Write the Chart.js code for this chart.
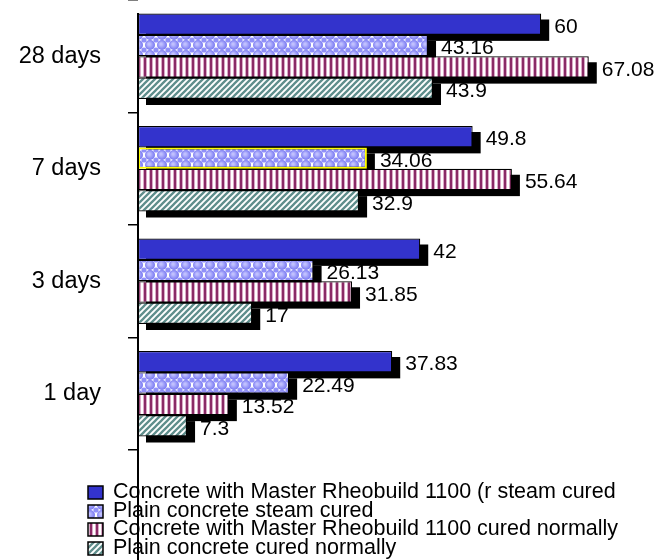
<!DOCTYPE html>
<html><head><meta charset="utf-8">
<script src="https://cdn.jsdelivr.net/npm/chart.js@4.4.0/dist/chart.umd.min.js"></script>
<style>html,body{margin:0;padding:0;background:#fff}#wrap{width:670px;height:560px;position:relative}</style>
</head><body><div id="wrap"><canvas id="c"></canvas></div>
<script>
const categories = ['28 days', '7 days', '3 days', '1 day'];
const seriesNames = [
  'Concrete with Master Rheobuild 1100 (r steam cured',
  'Plain concrete steam cured',
  'Concrete with Master Rheobuild 1100 cured normally',
  'Plain concrete cured normally'
];
const mrSteam = [60, 49.8, 42, 37.83];
const plainSteam = [43.16, 34.06, 26.13, 22.49];
const mrNormal = [67.08, 55.64, 31.85, 13.52];
const plainNormal = [43.9, 32.9, 17, 7.3];

const FONT = "'Liberation Sans', Arial, sans-serif";
const canvas = document.getElementById('c');
const mainCtx = canvas.getContext('2d');

function makePattern(w, h, draw) {
  const c = document.createElement('canvas');
  c.width = w; c.height = h;
  const x = c.getContext('2d');
  draw(x, w, h);
  return mainCtx.createPattern(c, 'repeat');
}

const bubblePattern = makePattern(12, 10, (x, w, h) => {
  x.fillStyle = '#ffffff'; x.fillRect(0, 0, w, h);
  const g = x.createRadialGradient(5, 4, 1, 6, 5, 5.5);
  g.addColorStop(0, '#c0c0ff'); g.addColorStop(1, '#7070f0');
  x.fillStyle = g;
  x.beginPath(); x.arc(6, 5, 5, 0, Math.PI * 2); x.fill();
  x.fillStyle = '#9090f8';
  [[0, 0], [12, 0], [0, 10], [12, 10]].forEach(([a, b]) => { x.beginPath(); x.arc(a, b, 2.6, 0, Math.PI * 2); x.fill(); });
});
const stripePattern = makePattern(6, 4, (x) => {
  x.fillStyle = '#ffffff'; x.fillRect(0, 0, 6, 4);
  x.fillStyle = '#8a2a66'; x.fillRect(0, 0, 2, 4);
  x.fillStyle = '#d9a9c6'; x.fillRect(2, 0, 1, 4); x.fillRect(5, 0, 1, 4);
});
const diagPattern = makePattern(6, 6, (x) => {
  x.fillStyle = '#ffffff'; x.fillRect(0, 0, 6, 6);
  x.strokeStyle = '#5f8e8c'; x.lineWidth = 2.3;
  x.beginPath();
  x.moveTo(0, 6); x.lineTo(6, 0);
  x.moveTo(-1, 1); x.lineTo(1, -1);
  x.moveTo(5, 7); x.lineTo(7, 5);
  x.stroke();
});

const fills = ['#3333cc', bubblePattern, stripePattern, diagPattern];
const seriesValues = [mrSteam, plainSteam, mrNormal, plainNormal];

const deco = {
  id: 'deco',
  beforeDatasetsDraw(chart) {
    const ctx = chart.ctx;
    ctx.save();
    ctx.fillStyle = '#000';
    chart.data.datasets.forEach((ds, i) => {
      chart.getDatasetMeta(i).data.forEach(bar => {
        const p = bar.getProps(['x', 'y', 'base', 'height'], true);
        ctx.fillRect(p.base + 8, p.y - p.height / 2 + 6, p.x - p.base, p.height);
      });
    });
    ctx.restore();
  },
  afterDatasetsDraw(chart) {
    const ctx = chart.ctx;
    ctx.save();
    ctx.fillStyle = '#000';
    ctx.font = '21px ' + FONT;
    ctx.textBaseline = 'middle';
    ctx.textAlign = 'left';
    chart.data.datasets.forEach((ds, i) => {
      chart.getDatasetMeta(i).data.forEach((bar, j) => {
        const p = bar.getProps(['x', 'y'], true);
        ctx.fillText(String(ds.data[j]), p.x + 13, p.y + 3);
      });
    });
    ctx.restore();
  },
  afterDraw(chart) {
    const ctx = chart.ctx;
    const left = chart.chartArea.left;
    ctx.save();
    ctx.strokeStyle = '#000';
    ctx.lineWidth = 2;
    ctx.beginPath();
    ctx.moveTo(left, chart.chartArea.top + 13);
    ctx.lineTo(left, chart.height);
    ctx.stroke();
    // legend
    const rows = [492, 511, 529, 548];
    ctx.font = '21.5px ' + FONT;
    ctx.textBaseline = 'middle';
    ctx.textAlign = 'left';
    chart.data.datasets.forEach((ds, i) => {
      const y = rows[i];
      ctx.fillStyle = ds.backgroundColor;
      ctx.fillRect(88, y - 6, 15, 13);
      ctx.strokeStyle = '#000';
      ctx.lineWidth = 1.5;
      ctx.strokeRect(88, y - 6, 15, 13);
      ctx.fillStyle = '#000';
      ctx.fillText(ds.label, 113, y);
    });
    ctx.restore();
  }
};

new Chart(canvas, {
  type: 'bar',
  data: {
    labels: categories,
    datasets: seriesValues.map((vals, i) => ({
      label: seriesNames[i],
      data: vals,
      backgroundColor: fills[i],
      borderColor: (c) => (i === 1 && c.dataIndex === 1) ? '#ffff00' : '#000',
      borderWidth: (c) => (i === 1 && c.dataIndex === 1) ? 2 : 1.2,
      borderSkipped: false,
      categoryPercentage: 0.76,
      barPercentage: 1.0
    }))
  },
  options: {
    indexAxis: 'y',
    responsive: true,
    maintainAspectRatio: false,
    animation: false,
    layout: { padding: { top: -5, bottom: 110, right: 28, left: 0 } },
    plugins: { legend: { display: false }, tooltip: { enabled: false } },
    scales: {
      x: { display: false, min: 0, max: 75 },
      y: {
        afterFit(scale) { scale.width = 138; scale.paddingTop = -5; scale.paddingBottom = 0; },
        border: { display: false },
        grid: { display: true, drawOnChartArea: false, drawTicks: true, tickLength: 10, color: '#000', lineWidth: 1.5, offset: true },
        ticks: { color: '#000', font: { size: 23.5, family: FONT }, padding: 27 }
      }
    }
  },
  plugins: [deco]
});
</script>
</body></html>
